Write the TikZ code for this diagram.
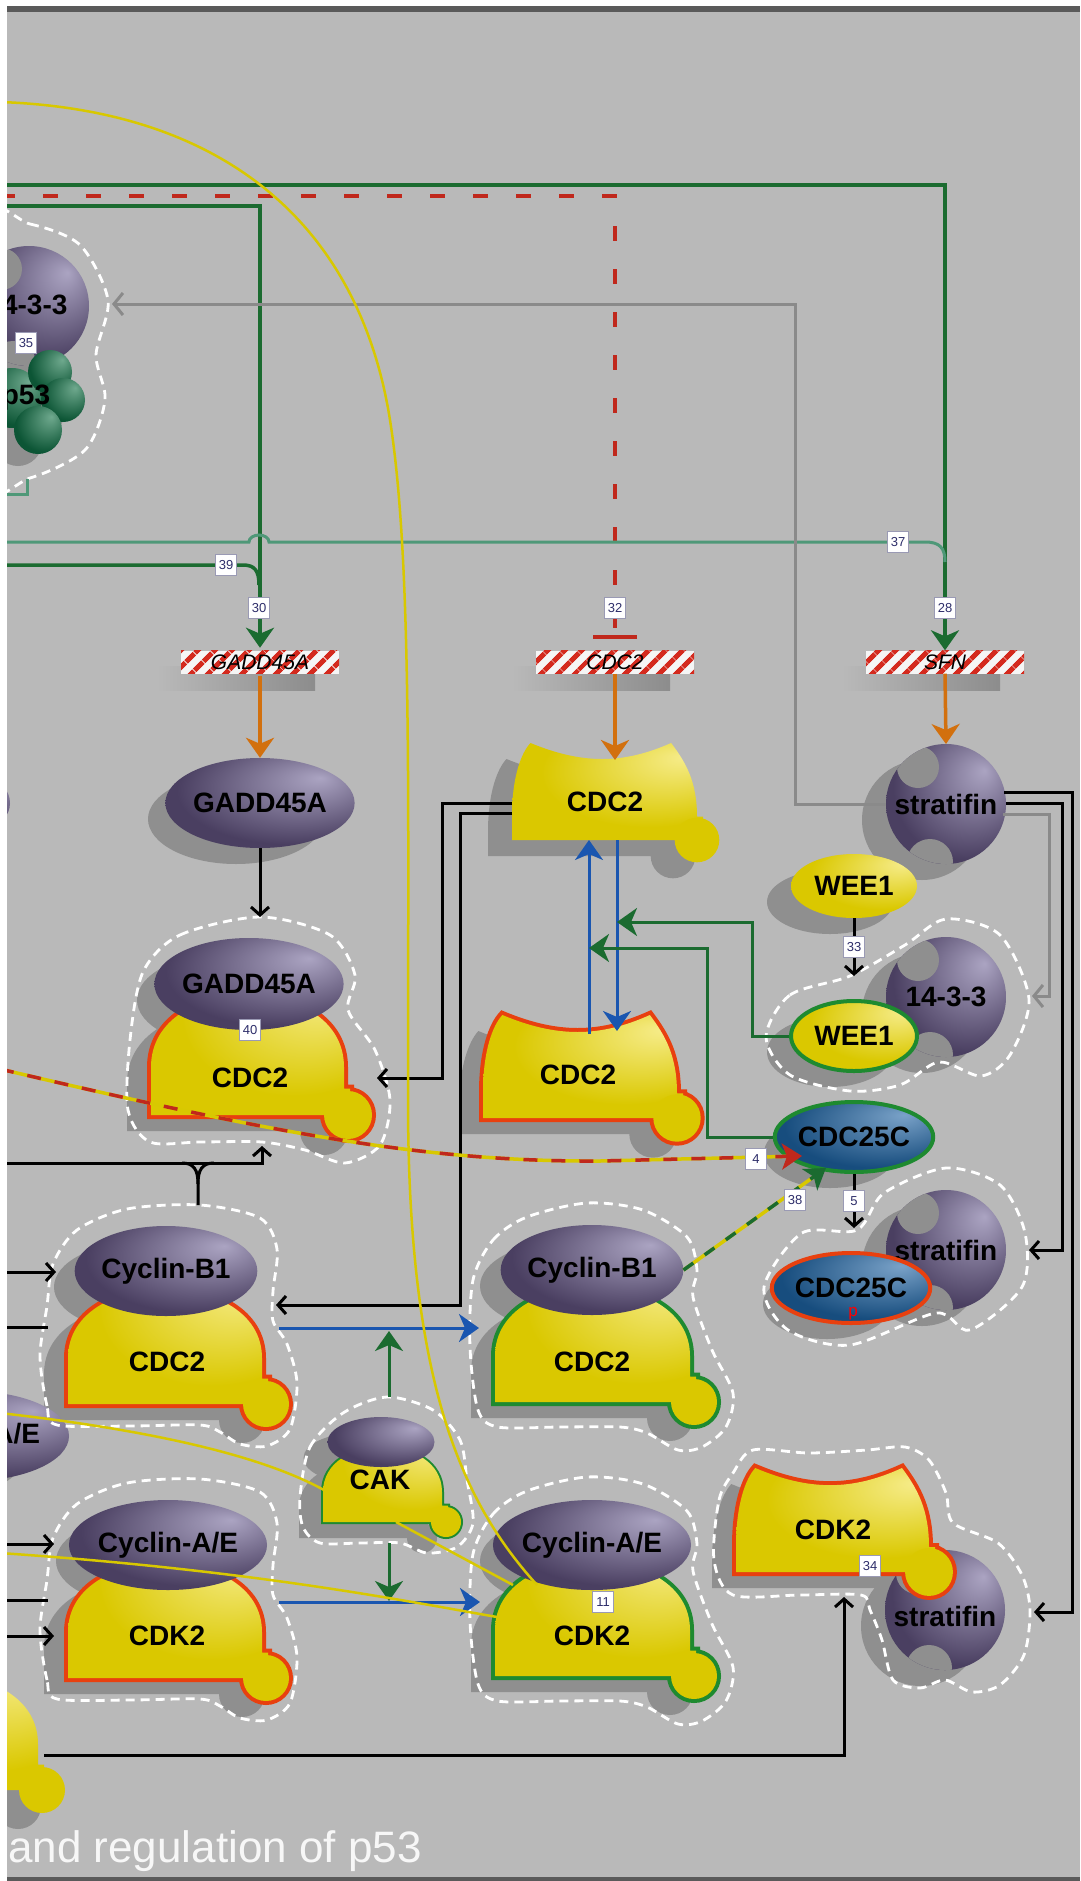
\documentclass[tikz,border=0pt]{standalone}
\usepackage{fontspec}
\setmainfont{Liberation Sans}
\usetikzlibrary{arrows.meta,patterns.meta,shapes.geometric,calc}

\definecolor{bgcol}{HTML}{B9B9B9}
\definecolor{shadowgray}{HTML}{8F8F8F}
\definecolor{dkgreen}{HTML}{1B6B30}
\definecolor{teal2}{HTML}{4F9878}
\definecolor{hatchred}{HTML}{D42A1E}
\definecolor{inhred}{HTML}{C0281C}
\definecolor{orng}{HTML}{D2700E}
\definecolor{blu}{HTML}{1A56B0}
\definecolor{gry}{HTML}{8A8A8A}
\definecolor{ylw}{HTML}{D8C800}
\definecolor{redline}{HTML}{E8400F}
\definecolor{grnline}{HTML}{1E8A30}
\definecolor{purpL}{HTML}{ABA4C2}
\definecolor{purpD}{HTML}{4A3F61}
\definecolor{yelL}{HTML}{F6EC8A}
\definecolor{yelD}{HTML}{DAC800}
\definecolor{bluL}{HTML}{7AA2C8}
\definecolor{bluD}{HTML}{174D7E}
\definecolor{grnL}{HTML}{6FA98E}
\definecolor{grnD}{HTML}{0C5535}
\definecolor{numtxt}{HTML}{2E2E6A}
\definecolor{numbrd}{HTML}{9A9AB4}
\definecolor{edge}{HTML}{5A5A5A}

\pgfdeclareradialshading{purpball}{\pgfpoint{16bp}{14bp}}{color(0bp)=(purpL); color(30bp)=(purpD); color(60bp)=(purpD)}
\pgfdeclareradialshading{yelball}{\pgfpoint{20bp}{18bp}}{color(0bp)=(yelL); color(28bp)=(yelD); color(60bp)=(yelD)}
\pgfdeclareradialshading{bluball}{\pgfpoint{16bp}{16bp}}{color(0bp)=(bluL); color(30bp)=(bluD); color(60bp)=(bluD)}
\pgfdeclareradialshading{grnball}{\pgfpoint{14bp}{14bp}}{color(0bp)=(grnL); color(30bp)=(grnD); color(60bp)=(grnD)}

\pgfdeclarelayer{bgl}
\pgfdeclarelayer{shd}
\pgfsetlayers{bgl,shd,main}

% protein outlines, origin at the bottom left corner
\newcommand\domebody[2]{(0,0) -- (0,{-0.4*#2}) .. controls (0,{-1.2*#2}) and (#1,{-1.2*#2}) .. (#1,{-0.4*#2}) -- (#1,{-0.22*#2}) -- ({#1+6},{-0.22*#2}) -- ({#1+6},0) -- cycle}
\newcommand\domeknob[2]{({#1+4},0) circle[radius={0.2*#2}]}
\newcommand\recbody[2]{(0,0) -- (0,{-0.25*#2}) .. controls (0,{-0.65*#2}) and ({0.05*#1},{-0.9*#2}) .. ({0.1*#1},{-#2}) .. controls ({0.38*#1},{-0.78*#2}) and ({0.6*#1},{-0.78*#2}) .. ({0.86*#1},{-#2}) .. controls ({0.94*#1},{-0.8*#2}) and (#1,{-0.6*#2}) .. (#1,{-0.24*#2}) -- ({#1+6},{-0.24*#2}) -- ({#1+6},0) -- cycle}
\newcommand\recknob[2]{(#1,0) circle[radius={0.23*#2}]}

\tikzset{
  lbl/.style={font=\fontsize{28}{30}\selectfont\bfseries, inner sep=0pt},
  prot/.style={ellipse, lbl, shading=#1},
  gene/.style={minimum width=158, minimum height=23, inner sep=0pt,
    preaction={fill=white!92!gray}, pattern={Lines[angle=45,distance=13pt,line width=5.5pt]},
    pattern color=hatchred, font=\fontsize{21}{21}\selectfont\itshape},
  num/.style={draw=numbrd, line width=1.2pt, fill=white, text=numtxt,
    font=\fontsize{13}{13}\selectfont, inner sep=0pt, minimum width=21, minimum height=21},
  cplx/.style={draw=white, line width=2.8pt, dash pattern=on 9pt off 6pt},
  ln/.style={draw=black, line width=3pt},
  blk/.style={ln, -{Straight Barb[length=8pt,width=18pt]}},
  act/.style={line width=3.5pt, -{Stealth[length=20pt,width=28pt,inset=6pt]}},
  gryarr/.style={gry, line width=3pt, -{Straight Barb[length=9pt,width=22pt]}},
  pics/eshd/.style 2 args={code={
    \begin{pgfonlayer}{shd}\fill[shadowgray] (-24,16) ellipse[x radius=#1/2, y radius=#2/2];\end{pgfonlayer}
  }},
  pics/dome/.style n args={4}{code={
    \begin{pgfonlayer}{shd}
      \fill[shadowgray, shift={(-24,16)}] \domebody{#1}{#2};
      \fill[shadowgray, shift={(-24,16)}] \domeknob{#1}{#2};
    \end{pgfonlayer}
    \draw[draw=#3, line width=#4] \domebody{#1}{#2};
    \draw[draw=#3, line width=#4] \domeknob{#1}{#2};
    \shade[shading=yelball] \domebody{#1}{#2};
    \fill[yelD] \domeknob{#1}{#2};
  }},
  pics/rec/.style n args={4}{code={
    \begin{pgfonlayer}{shd}
      \fill[shadowgray, shift={(-24,16)}] \recbody{#1}{#2};
      \fill[shadowgray, shift={(-24,16)}] \recknob{#1}{#2};
    \end{pgfonlayer}
    \draw[draw=#3, line width=#4] \recbody{#1}{#2};
    \draw[draw=#3, line width=#4] \recknob{#1}{#2};
    \shade[shading=yelball] \recbody{#1}{#2};
    \fill[yelD] \recknob{#1}{#2};
  }},
  pics/sphere/.style={code={
    \begin{pgfonlayer}{shd}\fill[shadowgray] (-24,16) circle[radius=60];\end{pgfonlayer}
    \begin{scope}
      \clip (0,0) circle[radius=60];
      \shade[shading=purpball] (-60,-60) rectangle (60,60);
      \fill[shadowgray] (-28,-37) circle[radius=21];
      \fill[shadowgray] (-16,58) circle[radius=23];
    \end{scope}
  }},
}

\begin{document}
\begin{tikzpicture}[x=1pt,y=-1pt]
\useasboundingbox (0,0) rectangle (1080,1881);
\begin{pgfonlayer}{bgl}
  \fill[bgcol] (0,0) rectangle (1080,1881);
\end{pgfonlayer}

% genes
\foreach \gx in {260,615,945}
  \shade[left color=bgcol, right color=black!45] (\gx-103,666) rectangle (\gx+55,690);
\node[gene] (gGadd) at (260,662) {GADD45A};
\node[gene] (gCdc) at (615,662) {CDC2};
\node[gene] (gSfn) at (945,662) {SFN};

% 14-3-3 / p53 (cut at the left edge)
\path (29,306) pic{sphere};
\node[lbl] (p1433a) at (27,305) {14-3-3};
\foreach \px/\py/\pr in {12/398/30, 50/372/22, 63/400/22, 38/430/24} {
  \begin{pgfonlayer}{shd}\fill[shadowgray] (\px-20,\py+12) circle[radius=\pr];\end{pgfonlayer}
  \shade[shading=grnball] (\px,\py) circle[radius=\pr];
}
\node[lbl] (p53) at (26,398) {p53};

% proteins
\path (-78,803) pic{eshd={176}{90}} node[prot=purpball, minimum width=176, minimum height=90] (pSliver) {};
\path (260,803) pic{eshd={176}{90}} node[prot=purpball, minimum width=176, minimum height=90] (pGadd) {GADD45A};
\path (512,840) pic{rec={185}{97}{none}{0}};
\node[lbl] (cdcA) at (605,802) {CDC2};
\path (946,804) pic{sphere};
\node[lbl] (sfnA) at (946,804) {stratifin};
\path (854,886) pic{eshd={126}{64}} node[prot=yelball, minimum width=126, minimum height=64] (wee1) {WEE1};

\path (946,997) pic{sphere};
\node[lbl] (p1433b) at (946,997) {14-3-3};
\path (854,1036) pic{eshd={126}{70}} node[prot=yelball, draw=grnline, line width=4pt, minimum width=126, minimum height=70] (wee1c) {WEE1};

\path (854,1137) pic{eshd={132}{70}} node[prot=bluball, draw=grnline, line width=4pt, minimum width=132, minimum height=70] (cdc25) {CDC25C};

\path (946,1250) pic{sphere};
\node[lbl] (sfnB) at (946,1250) {stratifin};
\path (851,1288) pic{eshd={128}{70}} node[prot=bluball, draw=redline, line width=4pt, minimum width=128, minimum height=70] (cdc25p) {CDC25C};
\node[font=\fontsize{17}{17}\selectfont, text=red, inner sep=0pt] (pP) at (853,1314) {p};

\path (151,1115) pic{dome={193}{120}{redline}{8}};
\path (249,984) pic{eshd={176}{92}} node[prot=purpball, minimum width=176, minimum height=92] (gaddC) {GADD45A};
\node[lbl] (cdcG) at (250,1078) {CDC2};

\path (483,1118) pic{rec={194}{103}{redline}{8}};
\node[lbl] (cdcB) at (578,1075) {CDC2};

\path (68,1404) pic{dome={194}{115}{redline}{8}};
\path (166,1271) pic{eshd={176}{90}} node[prot=purpball, minimum width=176, minimum height=90] (cycB1L) {Cyclin-B1};
\node[lbl] (cdcB1L) at (167,1362) {CDC2};

\path (495,1402) pic{dome={195}{115}{grnline}{8}};
\path (592,1270) pic{eshd={176}{90}} node[prot=purpball, minimum width=176, minimum height=90] (cycB1R) {Cyclin-B1};
\node[lbl] (cdcB1R) at (592,1362) {CDC2};

\path (-30,1436) pic{eshd={160}{90}} node[prot=purpball, minimum width=160, minimum height=90] (cycLE) {Cyclin-A/E};

\path (323,1522) pic{dome={119}{75}{grnline}{4}};
\path (381,1442) pic{eshd={107}{50}} node[prot=purpball, minimum width=107, minimum height=50] (cakE) {};
\node[lbl] (cak) at (380,1480) {CAK};

\path (68,1678) pic{dome={194}{115}{redline}{8}};
\path (168,1545) pic{eshd={176}{90}} node[prot=purpball, minimum width=176, minimum height=90] (cycAL) {Cyclin-A/E};
\node[lbl] (cdkL) at (167,1636) {CDK2};

\path (495,1676) pic{dome={195}{115}{grnline}{8}};
\path (592,1545) pic{eshd={176}{90}} node[prot=purpball, minimum width=176, minimum height=90] (cycAR) {Cyclin-A/E};
\node[lbl] (cdkR) at (592,1636) {CDK2};

\path (945,1610) pic{sphere};
\path (736,1572) pic{rec={193}{104}{redline}{8}};
\node[lbl] (cdkS) at (833,1530) {CDK2};
\node[lbl] (sfnC) at (945,1616) {stratifin};

\path (-152,1790) pic{dome={190}{115}{none}{0}};

% complexes
\draw[cplx] plot[smooth cycle] coordinates {(-20,222) (30,224) (80,245) (108,300) (96,355) (105,400) (85,450) (30,478) (-20,480)};
\draw[cplx] plot[smooth cycle] coordinates {(143,972) (180,935) (260,917) (330,935) (355,975) (348,1010) (375,1050) (390,1100) (380,1145) (345,1163) (305,1150) (262,1142) (200,1142) (150,1142) (128,1110) (130,1040)};
\draw[cplx] plot[smooth cycle] coordinates {(766,1037) (790,995) (850,976) (905,945) (946,919) (1000,935) (1029,999) (1010,1055) (981,1076) (939,1062) (900,1085) (850,1091) (790,1075)};
\draw[cplx] plot[smooth cycle] coordinates {(764,1287) (802,1233) (857,1230) (884,1193) (946,1168) (1000,1185) (1025,1233) (1022,1287) (970,1330) (936,1313) (850,1345) (788,1330)};
\draw[cplx] plot[smooth cycle] coordinates {(57,1425) (47,1406) (40,1356) (47,1306) (53,1264) (77,1230) (127,1209) (200,1205) (260,1218) (277,1249) (273,1291) (273,1321) (287,1344) (297,1383) (290,1429) (267,1446) (240,1444) (220,1432) (200,1425) (130,1426)};
\draw[cplx, shift={(0,274)}] plot[smooth cycle] coordinates {(57,1425) (47,1406) (40,1356) (47,1306) (53,1264) (77,1230) (127,1209) (200,1205) (260,1218) (277,1249) (273,1291) (273,1321) (287,1344) (297,1383) (290,1429) (267,1446) (240,1444) (220,1432) (200,1425) (130,1426)};
\draw[cplx] plot[smooth cycle] coordinates {(473,1280) (493,1240) (527,1217) (587,1203) (643,1210) (687,1237) (697,1270) (693,1297) (712,1350) (733,1393) (726,1427) (702,1447) (678,1450) (647,1433) (620,1427) (560,1427) (498,1427) (478,1410) (470,1347)};
\draw[cplx, shift={(0,274)}] plot[smooth cycle] coordinates {(473,1280) (493,1240) (527,1217) (587,1203) (643,1210) (687,1237) (697,1270) (693,1297) (712,1350) (733,1393) (726,1427) (702,1447) (678,1450) (647,1433) (620,1427) (560,1427) (498,1427) (478,1410) (470,1347)};
\draw[cplx] plot[smooth cycle] coordinates {(300,1497) (310,1447) (343,1413) (387,1397) (433,1410) (460,1440) (467,1480) (473,1523) (457,1547) (427,1553) (400,1543) (360,1543) (320,1543) (303,1527)};
\draw[cplx] plot[smooth cycle] coordinates {(714,1560) (719,1500) (733,1473) (753,1450) (809,1453) (867,1450) (905,1447) (929,1460) (946,1493) (953,1523) (998,1543) (1022,1575) (1030,1610) (1024,1655) (1000,1685) (972,1692) (945,1680) (920,1688) (893,1680) (882,1640) (870,1610) (861,1595) (800,1595) (733,1595)};

% free ends and docking points
\coordinate (inY) at (0,102);
\coordinate (inSfn) at (0,185);
\coordinate (inCdc) at (0,196);
\coordinate (inGadd) at (0,206);
\coordinate (outTeal) at (0,494);
\coordinate (in37) at (0,542);
\coordinate (in39) at (0,565);
\coordinate (in4) at (0,1069);
\coordinate (inBr) at (0,1163);
\coordinate (inB1a) at (0,1272);
\coordinate (inB1b) at (0,1327);
\coordinate (inYa) at (0,1413);
\coordinate (inA1) at (0,1544);
\coordinate (inYb) at (0,1553);
\coordinate (inA2) at (0,1600);
\coordinate (inA3) at (0,1636);
\coordinate (p53out) at (27,479);
\coordinate (x1433) at (112,304);
\coordinate (cdcAtop) at (615,760);
\coordinate (sfnAtop) at (946,744);
\coordinate (sfL) at (886,804);
\coordinate (sfR1) at (1004,792);
\coordinate (sfR2) at (1006,803);
\coordinate (sfR3) at (1003,814);
\coordinate (gcxTop) at (260,917);
\coordinate (gcxR) at (377,1078);
\coordinate (gcxBot) at (262,1146);
\coordinate (cdcAl1) at (512,803);
\coordinate (cdcAl2) at (512,813);
\coordinate (cdcAb1) at (589,840);
\coordinate (cdcAb2) at (617,840);
\coordinate (cdcBt1) at (589,1034);
\coordinate (cdcBt2) at (617,1031);
\coordinate (bDn) at (617,922);
\coordinate (bUp) at (589,948);
\coordinate (wcxTop) at (854,976);
\coordinate (wcxR) at (1032,996);
\coordinate (scxTop) at (854,1228);
\coordinate (scxR) at (1029,1250);
\coordinate (sbcxR) at (1034,1612);
\coordinate (c25in4) at (802,1156);
\coordinate (c25in38) at (826,1168);
\coordinate (b1cxTop) at (198,1205);
\coordinate (brJ) at (198,1184);
\coordinate (b1cxL) at (56,1272);
\coordinate (b1cxLb) at (48,1327);
\coordinate (b1cxR) at (276,1305);
\coordinate (b1Lout) at (279,1328);
\coordinate (b1Rin) at (479,1328);
\coordinate (cakTop) at (389,1397);
\coordinate (cakBot) at (389,1543);
\coordinate (bluB1) at (389,1331);
\coordinate (bluA) at (389,1601);
\coordinate (aLout) at (279,1602);
\coordinate (aRin) at (480,1602);
\coordinate (acx1) at (54,1544);
\coordinate (acx2) at (48,1600);
\coordinate (acx3) at (54,1636);
\coordinate (cakL) at (324,1490);
\coordinate (cakB) at (396,1522);
\coordinate (cdkRl1) at (513,1585);
\coordinate (cdkRl2) at (497,1617);
\coordinate (cdkRtop) at (537,1585);
\coordinate (domeBLr) at (44,1755);
\coordinate (scdkBot) at (844,1597);

% transcription
\draw[act, dkgreen] (inSfn) -| (gSfn.north);
\draw[act, dkgreen] (inGadd) -| (gGadd.north);
\draw[inhred, line width=4pt, dash pattern=on 15pt off 28pt, -{Bar[width=44pt,line width=4pt]}] (inCdc) -| ([yshift=11pt]gCdc.north);
\draw[dkgreen, line width=3.5pt] (in39) -- (243,565) .. controls (255,565) and (259,571) .. (259,585);
\draw[teal2, line width=3pt] (in37) -- (249,542) arc[start angle=180, end angle=360, x radius=10, y radius=7] -- (925,542) .. controls (940,542) and (945,548) .. (945,562);
\draw[teal2, line width=3pt] (p53out) |- (outTeal);
\draw[gryarr] (sfL) -- ++(-91,0) |- (x1433);
\draw[act, orng] (gGadd.south) -- (pGadd.north);
\draw[act, orng] (gCdc.south) -- (cdcAtop);
\draw[act, orng] (gSfn.south) -- (sfnAtop);

% binding and modification
\draw[blk] (pGadd.south) -- (gcxTop);
\draw[blk] (cdcAl1) -- ++(-70,0) |- (gcxR);
\draw[blk] (cdcAl2) -- ++(-52,0) |- (b1cxR);
\draw[act, blu, line width=3pt] (cdcBt1) -- (cdcAb1);
\draw[act, blu, line width=3pt] (cdcAb2) -- (cdcBt2);
\draw[act, dkgreen, line width=3pt] (wee1c.west) -- ++(-37,0) |- (bDn);
\draw[act, dkgreen, line width=3pt] (cdc25.west) -- ++(-65,0) |- (bUp);
\draw[blk] (wee1.south) -- (wcxTop) node[num, midway] (n33) {33};
\draw[blk] (cdc25.south) -- (scxTop) node[num, midway] (n5) {5};
\draw[blk] (sfR1) -- ++(68,0) |- (sbcxR);
\draw[blk] (sfR2) -- ++(56,0) |- (scxR);
\draw[gryarr] (sfR3) -- ++(46,0) |- (wcxR);

\draw[ylw, line width=3.5pt, shorten >=12pt] (in4) .. controls (280,1135) and (430,1162) .. (600,1161) -- (c25in4);
\draw[inhred, line width=3.5pt, dash pattern=on 14pt off 14pt, -{Stealth[length=20pt,width=26pt,inset=5pt]}] (in4) .. controls (280,1135) and (430,1162) .. (600,1161) -- (c25in4);
\draw[ylw, line width=3.5pt, shorten >=12pt] (cycB1R.east) -- (c25in38);
\draw[dkgreen, line width=3.5pt, dash pattern=on 12pt off 14pt, -{Stealth[length=20pt,width=26pt,inset=5pt]}] (cycB1R.east) -- (c25in38);

\draw[blk] (inB1a) -- (b1cxL);
\draw[ln] (inB1b) -- (b1cxLb);
\draw[blk] (inBr) -| (gcxBot);
\draw[ln] (b1cxTop) -- (brJ) .. controls (198,1170) and (194,1163) .. (182,1163);
\draw[ln] (brJ) .. controls (198,1170) and (202,1163) .. (214,1163);
\draw[act, blu, line width=3pt] (b1Lout) -- (b1Rin);
\draw[act, dkgreen, line width=3pt] (cakTop) -- (bluB1);
\draw[act, blu, line width=3pt] (aLout) -- (aRin);
\draw[act, dkgreen, line width=3pt] (cakBot) -- (bluA);
\draw[blk] (inA1) -- (acx1);
\draw[ln] (inA2) -- (acx2);
\draw[blk] (inA3) -- (acx3);
\draw[blk] (domeBLr) -| (scdkBot);

% yellow links
\draw[ylw, line width=2.5pt] (inY) .. controls (230,110) and (360,230) .. (390,420) .. controls (412,560) and (408,800) .. (408,1100) .. controls (408,1380) and (460,1500) .. (cdkRtop);
\draw[ylw, line width=2.5pt] (inYa) .. controls (150,1430) and (260,1455) .. (cakL);
\draw[ylw, line width=2.5pt] (cakB) -- (cdkRl1);
\draw[ylw, line width=2.5pt] (inYb) .. controls (250,1570) and (400,1600) .. (cdkRl2);

% reaction numbers
\node[num] (n35) at (26,343) {35};
\node[num] (n39) at (226,565) {39};
\node[num] (n30) at (259,608) {30};
\node[num] (n32) at (615,608) {32};
\node[num] (n28) at (945,608) {28};
\node[num] (n37) at (898,542) {37};
\node[num] (n40) at (250,1030) {40};
\node[num] (n4) at (756,1159) {4};
\node[num] (n38) at (795,1200) {38};
\node[num] (n34) at (870,1566) {34};
\node[num] (n11) at (603,1602) {11};

\node[anchor=base west, text=white!94!gray, font=\fontsize{44}{44}\selectfont, inner sep=0pt] (title) at (8,1862) {and regulation of p53};

% frame
\fill[white] (0,0) rectangle (7,1881);
\fill[white] (0,0) rectangle (1080,6);
\fill[edge] (7,6) rectangle (1080,12);
\fill[edge] (7,1877) rectangle (1080,1881);
\end{tikzpicture}
\end{document}
